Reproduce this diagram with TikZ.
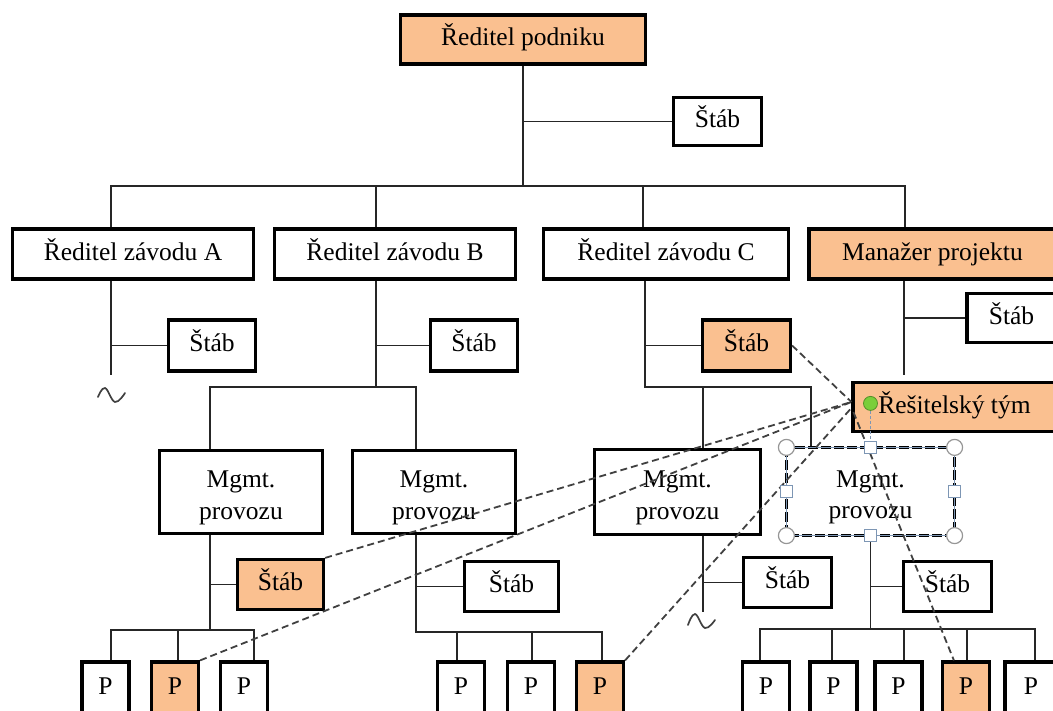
\documentclass[tikz,border=0pt]{standalone}
\usepackage{fontspec}
\setmainfont{Liberation Serif}
\usetikzlibrary{calc}
\definecolor{peach}{RGB}{250,192,144}
\definecolor{dashgrey}{RGB}{64,64,64}
\definecolor{handleblue}{RGB}{125,150,180}
\definecolor{handlegrey}{RGB}{150,150,150}
\definecolor{rotgreen}{RGB}{122,206,58}
\newcommand{\mgmttext}{\rule{0pt}{28pt}Mgmt.\\provozu}

\begin{document}
\begin{tikzpicture}[x=1pt,y=-1pt,
  box/.style={draw=black, line width=3.2pt, fill=white, inner sep=0pt,
    font=\fontsize{25.5}{31.5}\selectfont, align=center},
  oneline/.style={box, text height=17.5pt, text depth=5pt},
  hot/.style={fill=peach},
  pbox/.style={oneline, minimum width=47, minimum height=52},
  link/.style={draw=black!85, line width=1.8pt},
  dashlink/.style={draw=dashgrey, line width=1.8pt, dash pattern=on 7pt off 4pt},
  squig/.style={draw=black!75, line width=1.7pt, line cap=round},
  cornerhandle/.style={circle, draw=handlegrey, fill=white, line width=1.2pt,
    minimum size=16, inner sep=0pt},
  edgehandle/.style={rectangle, draw=handleblue, fill=white, line width=1.5pt,
    minimum size=12, inner sep=0pt},
]
\useasboundingbox (0,0) rectangle (1053,711);
\clip (0,0) rectangle (1053,711);

% ---------- boxes ----------
\node[oneline,hot,minimum width=245,minimum height=49] (rp) at (523,39.5) {Ředitel podniku};
\node[oneline,minimum width=88,minimum height=48] (s0) at (717.5,121.5) {Štáb};

\node[oneline,minimum width=241,minimum height=50] (za) at (133,254) {Ředitel závodu A};
\node[oneline,minimum width=241,minimum height=50] (zb) at (395,254) {Ředitel závodu B};
\node[oneline,minimum width=245,minimum height=50] (zc) at (666,254) {Ředitel závodu C};
\node[oneline,hot,minimum width=247,minimum height=50] (mp) at (932.5,254) {Manažer projektu};

\node[oneline,minimum width=87,minimum height=51] (sa) at (212,345.5) {Štáb};
\node[oneline,minimum width=87,minimum height=51] (sb) at (474,345.5) {Štáb};
\node[oneline,hot,minimum width=88,minimum height=51] (sc) at (746.5,345.5) {Štáb};
\node[oneline,minimum width=89,minimum height=49] (sm) at (1011.5,318) {Štáb};
\node[oneline,hot,minimum width=203,minimum height=49] (rt) at (954.5,407) {Řešitelský tým};

\node[box,minimum width=163,minimum height=83] (m1) at (241,492) {\mgmttext};
\node[box,minimum width=163,minimum height=83] (m2) at (434,492) {\mgmttext};
\node[box,minimum width=166,minimum height=85] (m3) at (677.5,492) {\mgmttext};
\node[box,draw=none,minimum width=165,minimum height=85] (m4) at (870.5,491.5) {\mgmttext};

\node[oneline,hot,minimum width=86,minimum height=50] (s1) at (280.5,584.5) {Štáb};
\node[oneline,minimum width=94,minimum height=50] (s2) at (511.5,586.5) {Štáb};
\node[oneline,minimum width=88,minimum height=50] (s3) at (787.5,582.5) {Štáb};
\node[oneline,minimum width=88,minimum height=50] (s4) at (947.5,586.5) {Štáb};

\node[pbox] (pa1) at (105.5,688) {P};
\node[pbox,hot] (pa2) at (175,688) {P};
\node[pbox] (pa3) at (244,688) {P};
\node[pbox] (pb1) at (461,688) {P};
\node[pbox] (pb2) at (531,688) {P};
\node[pbox,hot] (pb3) at (600,688) {P};
\node[pbox] (pd1) at (766,688) {P};
\node[pbox] (pd2) at (833.5,688) {P};
\node[pbox] (pd3) at (898.5,688) {P};
\node[pbox,hot] (pd4) at (966,688) {P};
\node[pbox,minimum width=52] (pd5) at (1031,688) {P};

% ---------- reference lines and positions ----------
\coordinate (bus0) at (0,186);
\coordinate (busB) at (0,387);
\coordinate (busP1) at (0,630);
\coordinate (busP2) at (0,632);
\coordinate (busP4) at (0,629);
\coordinate (xA) at (111,0);
\coordinate (xB) at (376,0);
\coordinate (xC) at (643,0);
\coordinate (xCb) at (645,0);
\coordinate (xM) at (905,0);
\coordinate (x1) at (210,0);
\coordinate (x2) at (416,0);
\coordinate (x3) at (703,0);
\coordinate (x4) at (811,0);
\coordinate (aend) at (111,375);
\coordinate (mend) at (904,375);
\coordinate (cend) at (703,612);
\coordinate (va1) at (111,0);
\coordinate (va2) at (178,0);
\coordinate (va3) at (254,0);
\coordinate (vb1) at (457,0);
\coordinate (vb2) at (532,0);
\coordinate (vb3) at (602,0);
\coordinate (vd1) at (760,0);
\coordinate (vd2) at (832,0);
\coordinate (vd3) at (904,0);
\coordinate (vd4) at (967,0);
\coordinate (vd5) at (1035,0);

% ---------- top level ----------
\draw[link] (rp.south) -- (rp.south |- bus0);
\draw[link] (rp.south |- s0.west) -- (s0.west);
\draw[link] (za.north -| xA) -- (xA |- bus0) -- (xM |- bus0) -- (mp.north -| xM);
\draw[link] (zb.north -| xB) -- (xB |- bus0);
\draw[link] (zc.north -| xC) -- (xC |- bus0);

% ---------- plant A ----------
\draw[link] (za.south -| aend) -- (aend);
\draw[link] (aend |- sa.west) -- (sa.west);
\draw[squig] plot[smooth, tension=0.7] coordinates {(98,397) (105,388) (115,402) (125,393)};

% ---------- plant B ----------
\draw[link] (zb.south -| xB) -- (xB |- busB);
\draw[link] (xB |- sb.west) -- (sb.west);
\draw[link] (m1.north -| x1) -- (x1 |- busB) -- (x2 |- busB) -- (m2.north -| x2);

\draw[link] (m1.south -| x1) -- (x1 |- busP1);
\draw[link] (x1 |- s1.west) -- (s1.west);
\draw[link] (pa1.north -| va1) -- (va1 |- busP1) -- (va3 |- busP1) -- (pa3.north -| va3);
\draw[link] (va2 |- busP1) -- (pa2.north -| va2);

\draw[link] (m2.south -| x2) -- (x2 |- busP2) -- (vb3 |- busP2) -- (pb3.north -| vb3);
\draw[link] (x2 |- s2.west) -- (s2.west);
\draw[link] (vb1 |- busP2) -- (pb1.north -| vb1);
\draw[link] (vb2 |- busP2) -- (pb2.north -| vb2);

% ---------- plant C ----------
\draw[link] (zc.south -| xCb) -- (xCb |- busB) -- (x4 |- busB) -- (m4.north -| x4);
\draw[link] (xCb |- sc.west) -- (sc.west);
\draw[link] (x3 |- busB) -- (m3.north -| x3);

\draw[link] (m3.south -| cend) -- (cend);
\draw[link] (cend |- s3.west) -- (s3.west);
\draw[squig] plot[smooth, tension=0.7] coordinates {(688,625) (695,614) (705,628) (715,620)};

\draw[link] (m4.south) -- (m4.south |- busP4);
\draw[link] (m4.south |- s4.west) -- (s4.west);
\draw[link] (pd1.north -| vd1) -- (vd1 |- busP4) -- (vd5 |- busP4) -- (pd5.north -| vd5);
\draw[link] (vd2 |- busP4) -- (pd2.north -| vd2);
\draw[link] (vd3 |- busP4) -- (pd3.north -| vd3);
\draw[link] (vd4 |- busP4) -- (pd4.north -| vd4);

% ---------- project manager ----------
\draw[link] (mp.south -| mend) -- (mend);
\draw[link] (mend |- sm.west) -- (sm.west);

% ---------- selected shape outline ----------
\draw[black, line width=2.4pt, dash pattern=on 10pt off 3pt]
  (m4.north west) rectangle (m4.south east);
\draw[handleblue, line width=0.8pt] (m4.north west) rectangle (m4.south east);

% ---------- project team links ----------
\coordinate (hub) at ($(rt.west)+(0,-5)$);
\draw[dashlink] (sc.east) -- (hub);
\draw[dashlink] (s1.north east) -- (hub);
\draw[dashlink] (pa2.north east) -- (hub);
\draw[dashlink] (pb3.north east) -- ($(rt.west)+(0,1)$);
\draw[dashlink] ($(rt.west)+(2,5)$) -- ($(pd4.north west)+(13,0)$);

% ---------- selection handles ----------
\node[circle, draw=rotgreen!70!black, fill=rotgreen, line width=0.8pt,
  minimum size=14, inner sep=0pt] (rot) at ($(m4.north)+(0,-44)$) {};
\node[edgehandle] (hn) at (m4.north) {};
\draw[handleblue, line width=1pt, dash pattern=on 3pt off 2pt] (rot.south) -- (hn.north);
\node[edgehandle] at (m4.south) {};
\node[edgehandle] at (m4.west) {};
\node[edgehandle] at (m4.east) {};
\node[cornerhandle] at (m4.north west) {};
\node[cornerhandle] at (m4.north east) {};
\node[cornerhandle] at (m4.south west) {};
\node[cornerhandle] at (m4.south east) {};

\end{tikzpicture}
\end{document}
